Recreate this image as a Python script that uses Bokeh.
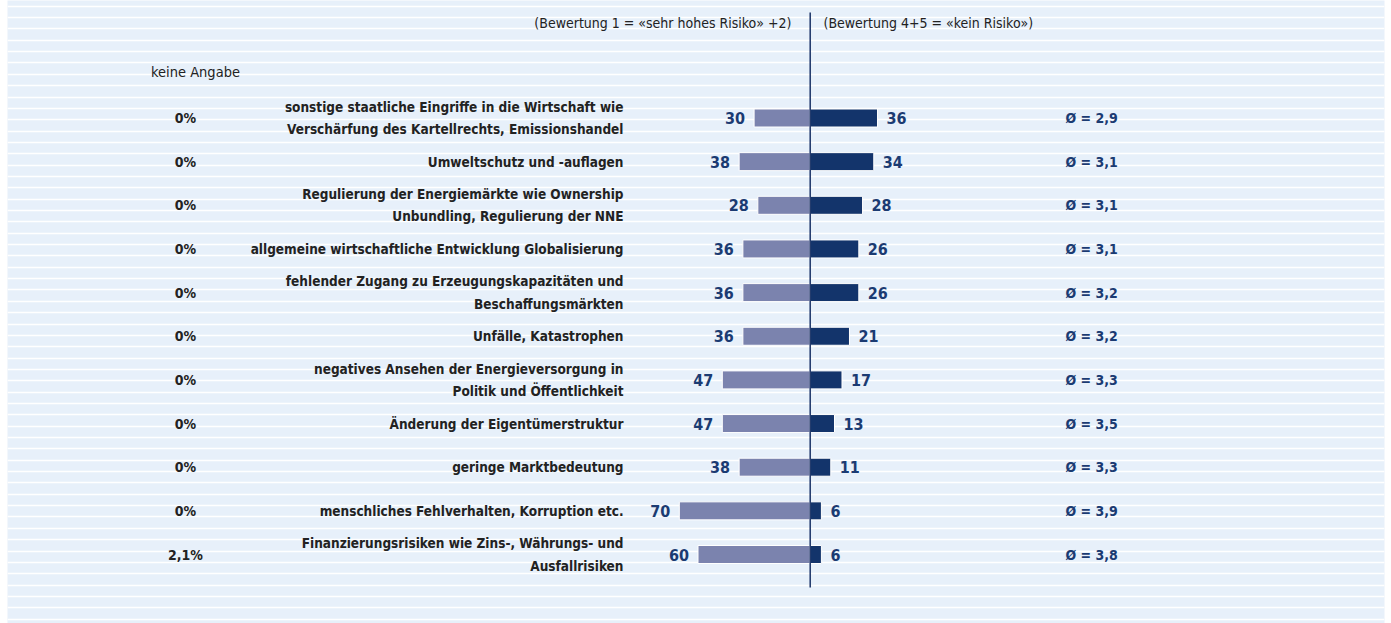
from bokeh.plotting import figure
from bokeh.models import ColumnDataSource, Range1d, FixedTicker
from bokeh.core.properties import value
from bokeh.embed import file_html
from bokeh.resources import INLINE

categories = [
    "sonstige staatliche Eingriffe in die Wirtschaft wie\nVerschärfung des Kartellrechts, Emissionshandel",
    "Umweltschutz und -auflagen",
    "Regulierung der Energiemärkte wie Ownership\nUnbundling, Regulierung der NNE",
    "allgemeine wirtschaftliche Entwicklung Globalisierung",
    "fehlender Zugang zu Erzeugungskapazitäten und\nBeschaffungsmärkten",
    "Unfälle, Katastrophen",
    "negatives Ansehen der Energieversorgung in\nPolitik und Öffentlichkeit",
    "Änderung der Eigentümerstruktur",
    "geringe Marktbedeutung",
    "menschliches Fehlverhalten, Korruption etc.",
    "Finanzierungsrisiken wie Zins-, Währungs- und\nAusfallrisiken",
]
high_risk = [30, 38, 28, 36, 36, 36, 47, 47, 38, 70, 60]
no_risk = [36, 34, 28, 26, 26, 21, 17, 13, 11, 6, 6]
averages = ["2,9", "3,1", "3,1", "3,1", "3,2", "3,2", "3,3", "3,5", "3,3", "3,9", "3,8"]
no_answer = ["0%", "0%", "0%", "0%", "0%", "0%", "0%", "0%", "0%", "0%", "2,1%"]
header_left = "(Bewertung 1 = «sehr hohes Risiko» +2)"
header_right = "(Bewertung 4+5 = «kein Risiko»)"
no_answer_title = "keine Angabe"

# ---- layout helpers (pixel -> data) ----
W, H = 1391, 623
BL, BR = 7, 7
X0PX = 809.7          # pixel position of the zero line
XS = 1.87             # pixels per percentage point
Y0PX = 117.5          # pixel centre of first row
YS = 43.65            # pixels per row


def px2x(px):
    return (px - X0PX) / XS


def px2y(py):
    return (py - Y0PX) / YS


FONT = value("'DejaVu Sans Condensed', 'Liberation Sans', sans-serif")
NAVY = "#1b3b72"
DARK = "#13346b"
LIGHT = "#7b83ae"
TXT = "#222222"

p = figure(width=W, height=H, output_backend="svg", toolbar_location=None,
           x_range=Range1d(px2x(BL), px2x(W - BR)),
           y_range=Range1d(px2y(H), px2y(0)),
           min_border_left=BL, min_border_right=BR, min_border_top=0, min_border_bottom=0,
           background_fill_color="#e7f0fa", border_fill_color="white",
           outline_line_color=None)
p.xaxis.visible = False
p.yaxis.visible = False
p.xgrid.visible = False
p.ygrid.ticker = FixedTicker(ticks=[px2y(5.7 + 11.35 * j) for j in range(56)])
p.ygrid.grid_line_color = "white"
p.ygrid.grid_line_width = 1.6

rows = list(range(len(categories)))
src = ColumnDataSource(dict(
    y=rows, cat=categories,
    hi=high_risk, nhi=[-v for v in high_risk], no=no_risk,
    hi_lbl=[str(v) for v in high_risk], no_lbl=[str(v) for v in no_risk],
    avg=["Ø = " + a for a in averages], na=no_answer,
))

bh = 18 / YS
p.hbar(y="y", left="nhi", right=0, height=bh, source=src,
       fill_color=LIGHT, line_color="white", line_width=1)
p.hbar(y="y", left=0, right="no", height=bh, source=src,
       fill_color=DARK, line_color="white", line_width=1)

# zero line
p.segment(x0=[0], x1=[0], y0=[px2y(12)], y1=[px2y(587)], line_color="#1c3468", line_width=1.5)

# value labels
p.text(x="nhi", y="y", text="hi_lbl", source=src, x_offset=-9,
       text_align="right", text_baseline="middle", text_font=FONT,
       text_font_style="bold", text_font_size="16px", text_color=NAVY)
p.text(x="no", y="y", text="no_lbl", source=src, x_offset=9,
       text_align="left", text_baseline="middle", text_font=FONT,
       text_font_style="bold", text_font_size="16px", text_color=NAVY)

# category labels
p.text(x=px2x(623), y="y", text="cat", source=src,
       text_align="right", text_baseline="middle", text_font=FONT,
       text_font_style="bold", text_font_size="13.5px", text_color=TXT,
       text_line_height=1.4)

# averages
p.text(x=px2x(1065), y="y", text="avg", source=src,
       text_align="left", text_baseline="middle", text_font=FONT,
       text_font_style="bold", text_font_size="14px", text_color=NAVY)

# no answer
p.text(x=px2x(185), y="y", text="na", source=src,
       text_align="center", text_baseline="middle", text_font=FONT,
       text_font_style="bold", text_font_size="14px", text_color=TXT)
p.text(x=[px2x(195)], y=[px2y(71)], text=[no_answer_title],
       text_align="center", text_baseline="middle", text_font=FONT,
       text_font_size="14.5px", text_color=TXT)

# headers
p.text(x=[px2x(791)], y=[px2y(22)], text=[header_left],
       text_align="right", text_baseline="middle", text_font=FONT,
       text_font_size="14px", text_color=TXT)
p.text(x=[px2x(823)], y=[px2y(22)], text=[header_right],
       text_align="left", text_baseline="middle", text_font=FONT,
       text_font_size="14px", text_color=TXT)

open("out.html", "w").write(file_html(p, INLINE))
